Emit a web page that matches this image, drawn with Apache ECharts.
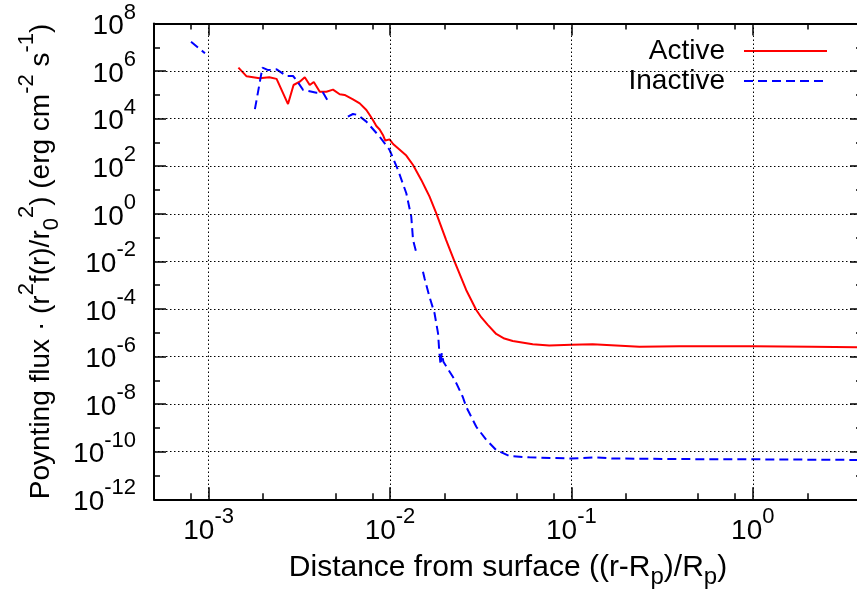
<!DOCTYPE html>
<html>
<head>
<meta charset="utf-8">
<script src="https://cdn.jsdelivr.net/npm/echarts@6/dist/echarts.min.js"></script>
<style>
  html, body { margin: 0; padding: 0; background: #fff; }
  #chart { width: 857px; height: 592px; }
</style>
</head>
<body>
<div id="chart"></div>
<script>
// ---- Data ----
const seriesNames = ['Active', 'Inactive'];

const activeX = [1.46e-3, 1.62e-3, 1.91e-3, 2.16e-3, 2.37e-3, 2.74e-3, 2.94e-3, 3.18e-3, 3.39e-3, 3.61e-3,
  3.80e-3, 4.10e-3, 4.46e-3, 4.85e-3, 5.28e-3, 5.62e-3, 6.25e-3, 6.81e-3, 7.41e-3, 7.73e-3,
  8.05e-3, 8.41e-3, 8.77e-3, 9.14e-3, 9.42e-3, 9.95e-3, 1.04e-2, 1.107e-2, 1.23e-2, 1.34e-2,
  1.49e-2, 1.585e-2, 1.65e-2, 1.80e-2, 2.04e-2, 2.27e-2, 2.63e-2, 2.99e-2, 3.19e-2, 3.45e-2,
  3.85e-2, 4.27e-2, 4.75e-2, 6.12e-2, 7.55e-2, 0.1, 0.131, 0.237, 0.393, 1.0, 2.12, 4.0];
const activeY = [1.39e6, 6.0e5, 5.0e5, 5.5e5, 4.7e5, 4.1e4, 2.6e5, 3.6e5, 5.5e5, 2.6e5,
  3.5e5, 1.36e5, 1.36e5, 1.66e5, 1.06e5, 9.9e4, 6.5e4, 4.4e4, 2.3e4, 1.43e4,
  8.8e3, 4.9e3, 3.5e3, 2.06e3, 1.2e3, 1.35e3, 861, 568, 280, 113,
  26, 10, 5.4, 1.05, 0.079, 9.8e-3, 6.3e-4, 9.1e-5, 4.4e-5, 2.2e-5,
  8.9e-6, 5.7e-6, 4.5e-6, 3.3e-6, 2.9e-6, 3.1e-6, 3.3e-6, 2.6e-6, 2.7e-6, 2.7e-6, 2.6e-6, 2.45e-6];

// null = break in the curve (values not plotted)
const inactiveX = [8.0e-4, 9.55e-4, null,
  1.80e-3, 1.98e-3, 2.13e-3, 2.37e-3, 2.69e-3, 2.92e-3, 3.05e-3, 3.32e-3, 3.93e-3, 4.28e-3, 4.55e-3, null,
  5.86e-3, 6.25e-3, 6.65e-3, 7.41e-3, 8.77e-3, 9.95e-3, 1.107e-2, 1.23e-2, 1.31e-2, 1.34e-2, 1.40e-2, null,
  1.52e-2, 1.55e-2, 1.65e-2, 1.76e-2, 1.84e-2, 1.87e-2, 1.90e-2, 1.93e-2, 1.97e-2, 2.22e-2, 2.32e-2,
  2.52e-2, 2.63e-2, 2.99e-2, 3.39e-2, 3.85e-2, 4.55e-2, 5.86e-2, 0.1, 0.136, 0.169, 0.393, 1.0, 4.0];
const inactiveY = [1.72e7, 5.6e6, null,
  2.5e4, 1.39e6, 1.1e6, 1.18e6, 6.2e5, 6.2e5, 4.2e5, 1.6e5, 1.24e5, 1.24e5, 5.5e4, null,
  1.21e4, 1.57e4, 1.43e4, 7.5e3, 1.75e3, 482, 69.5, 7.3, 0.76, 0.079, 0.022, null,
  3.7e-3, 1.95e-3, 3.3e-4, 6.6e-5, 9.5e-6, 1.6e-6, 4.5e-7, 1.4e-6, 6e-7, 1.42e-7, 7.6e-8,
  2.0e-8, 7.8e-9, 1.12e-9, 3.2e-10, 1.18e-10, 6.6e-11, 5.8e-11, 5.2e-11, 5.8e-11, 5.2e-11, 4.9e-11, 4.8e-11, 4.5e-11];

// Axis ranges and tick values
const xRange = [5e-4, 4];
const yRange = [1e-12, 1e8];
const xMajorTicks = [1e-3, 1e-2, 1e-1, 1];
const xMinorTicks = [8e-4, 2e-3, 5e-3, 8e-3, 2e-2, 5e-2, 8e-2, 0.2, 0.5, 0.8, 2];
const yMajorStepDecades = 2;

const xTitle = '{t|Distance from surface ((r-R}{sub|p}{t|)/R}{sub|p}{t|)}';
const yTitle = '{t|Poynting flux · (r}{sup|2}{t|f(r)/r}{sub|0}{sup|2}{t|) (erg cm}{sup|-2}{t| s}{sup|-1}{t|)}';

// ---- Build chart ----
const FONT = '"Liberation Sans", Arial, Helvetica, sans-serif';
const L = Math.log10;
const toPts = (xs, ys) => xs.map((x, i) => (x == null || ys[i] == null) ? ['-', '-'] : [L(x), L(ys[i])]);

const tickRich = {
  b: { fontSize: 28, lineHeight: 28, padding: [6, 0, 0, 0], fontFamily: FONT, color: '#000' },
  s: { fontSize: 22, lineHeight: 22, padding: [0, 0, 22, 0], fontFamily: FONT, color: '#000' }
};
function titleRich(fs) {
  const fss = Math.round(fs * 0.8);
  return {
    t: { fontSize: fs, lineHeight: 34, fontFamily: FONT, color: '#000' },
    sup: { fontSize: fss, lineHeight: fss, padding: [0, 0, 28, 0], fontFamily: FONT, color: '#000' },
    sub: { fontSize: fss, lineHeight: fss, padding: [21, 0, 0, 0], fontFamily: FONT, color: '#000' }
  };
}
const powLabel = v => '{b|10}{s|' + Math.round(v) + '}';

const xMin = L(xRange[0]), xMax = L(xRange[1]);
const yMin = L(yRange[0]), yMax = L(yRange[1]);
const xMaj = xMajorTicks.map(L), xMin_ = xMinorTicks.map(L);

const axisLineStyle = { color: '#000', width: 2 };
const tickStyle = { color: '#000', width: 1.5 };
const gridStyle = { color: '#000', width: 1, type: [1.5, 2.5] };

function xAxisDef(pos, values, len, withLabels, withSplit, withLine) {
  const a = {
    type: 'value', position: pos, min: xMin, max: xMax, gridIndex: 0,
    axisLine: { show: withLine, onZero: false, lineStyle: axisLineStyle },
    axisTick: { show: true, inside: true, length: len, customValues: values, lineStyle: tickStyle },
    axisLabel: { show: withLabels, customValues: values, margin: 15, formatter: powLabel, rich: tickRich },
    splitLine: { show: withSplit, lineStyle: gridStyle },
    z: 5
  };
  if (withLabels) {
    a.name = xTitle; a.nameLocation = 'middle'; a.nameGap = 51; a.nameMoveOverlap = false;
    a.nameTextStyle = { rich: titleRich(30) };
  }
  return a;
}
function yAxisDef(pos, withLabels, withSplit) {
  const a = {
    type: 'value', position: pos, min: yMin, max: yMax, interval: yMajorStepDecades, gridIndex: 0,
    axisLine: { show: true, onZero: false, lineStyle: axisLineStyle },
    axisTick: { show: true, inside: true, length: 12, lineStyle: tickStyle },
    minorTick: { show: true, splitNumber: 2, length: 6, lineStyle: tickStyle },
    minorSplitLine: { show: false },
    axisLabel: { show: withLabels, margin: 18, formatter: powLabel, rich: tickRich },
    splitLine: { show: withSplit, lineStyle: gridStyle },
    z: 5
  };
  if (withLabels) {
    a.name = yTitle; a.nameLocation = 'middle'; a.nameGap = 96; a.nameMoveOverlap = false;
    a.nameTextStyle = { rich: titleRich(28) };
  }
  return a;
}

const chart = echarts.init(document.getElementById('chart'), null, { renderer: 'canvas' });
chart.setOption({
  animation: false,
  backgroundColor: '#fff',
  grid: { left: 154, top: 23.5, width: 708, height: 475.8, containLabel: false, outerBoundsMode: 'none' },
  legend: {
    data: seriesNames, orient: 'vertical', align: 'right', right: 10, top: 28,
    itemWidth: 83, itemHeight: 30, itemGap: 0,
    padding: [8, 19, 0, 44], backgroundColor: '#fff',
    itemStyle: { opacity: 0 },
    textStyle: { fontSize: 28, fontFamily: FONT, color: '#000', lineHeight: 30, padding: [0, 14, 0, 0] }
  },
  xAxis: [
    xAxisDef('bottom', xMaj, 12, true, true, true),
    xAxisDef('bottom', xMin_, 6, false, false, false),
    xAxisDef('top', xMaj, 12, false, false, true),
    xAxisDef('top', xMin_, 6, false, false, false)
  ],
  yAxis: [
    yAxisDef('left', true, true),
    yAxisDef('right', false, false)
  ],
  series: [
    {
      name: seriesNames[0], type: 'line', xAxisIndex: 0, yAxisIndex: 0,
      data: toPts(activeX, activeY), symbol: 'none', showSymbol: false, clip: true,
      lineStyle: { color: '#ff0000', width: 2 }, itemStyle: { color: '#ff0000' }, z: 3
    },
    {
      name: seriesNames[1], type: 'line', xAxisIndex: 0, yAxisIndex: 0,
      data: toPts(inactiveX, inactiveY), symbol: 'none', showSymbol: false, clip: true, connectNulls: false,
      lineStyle: { color: '#0000ff', width: 2, type: [9, 5] }, itemStyle: { color: '#0000ff' }, z: 3
    }
  ]
});
</script>
</body>
</html>
